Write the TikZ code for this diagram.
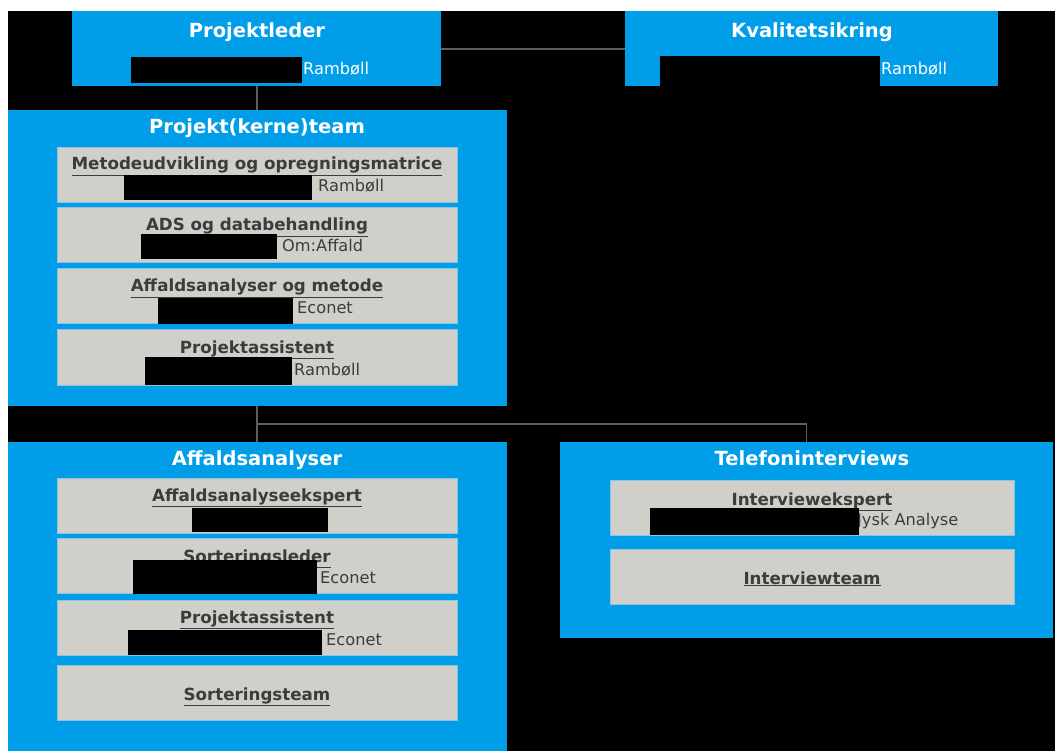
\documentclass[tikz,border=0pt]{standalone}
\usepackage{fontspec}
\setmainfont{DejaVu Sans}
\usetikzlibrary{positioning}

\definecolor{orgblue}{RGB}{0,157,232}
\definecolor{rolegray}{RGB}{208,207,202}
\definecolor{roleedge}{RGB}{140,195,225}
\definecolor{roletext}{RGB}{60,60,60}
\definecolor{linegray}{RGB}{95,95,90}

\tikzstyle{group} = [rectangle, fill=orgblue, inner sep=0pt, anchor=north west]
\tikzstyle{grouptitle} = [anchor=base, text=white, font=\fontsize{19.5}{22}\selectfont\bfseries, inner sep=0pt]
\tikzstyle{member} = [rectangle, fill=rolegray, draw=roleedge, line width=0.8pt, minimum width=400pt, minimum height=55pt, inner sep=0pt, anchor=north west]
\tikzstyle{roletitle} = [anchor=base, text=roletext, font=\fontsize{16.7}{19}\selectfont\bfseries, inner sep=0pt]
\tikzstyle{company} = [anchor=base west, text=roletext, font=\fontsize{16.2}{19}\selectfont, inner sep=0pt]
\tikzstyle{topcompany} = [company, text=white]
\tikzstyle{redact} = [fill=black]
\tikzstyle{connector} = [draw=linegray, line width=1.2pt]

\begin{document}
\begin{tikzpicture}[x=1pt, y=-1pt]

    \useasboundingbox (0,0) rectangle (1055,751);
    \fill[white] (0,0) rectangle (1055,751);
    \fill[black] (8,11) rectangle (1055,751);

    % Top boxes
    \node (leder) [group, minimum width=369pt, minimum height=75pt] at (72,11) {};
    \node (lederTitle) [grouptitle] at (257,37.5) {Projektleder};
    \fill[redact] (131,57) rectangle (302,83);
    \node (lederFirm) [topcompany] at (303,75) {Rambøll};

    \node (kvalitet) [group, minimum width=373pt, minimum height=75pt] at (625,11) {};
    \node (kvalitetTitle) [grouptitle] at (812,37.5) {Kvalitetsikring};
    \fill[redact] (660,56) rectangle (880,86.5);
    \node (kvalitetFirm) [topcompany] at (881,75) {Rambøll};

    % Projekt(kerne)team
    \node (kerne) [group, minimum width=499pt, minimum height=296pt] at (8,110) {};
    \node (kerneTitle) [grouptitle] at (257,134) {Projekt(kerne)team};

    \node (metode) [member] at (57,147) {};
    \node (metodeTitle) [roletitle] at (257,170) {\underline{Metodeudvikling og opregningsmatrice}};
    \node (metodeFirm) [company] at (318,191.5) {Rambøll};
    \fill[redact] (124,175) rectangle (312,200);

    \node (ads) [member] at (57,207) {};
    \node (adsTitle) [roletitle] at (257,231) {\underline{ADS og databehandling}};
    \node (adsFirm) [company] at (282,252) {Om:Affald};
    \fill[redact] (141,234) rectangle (277,259);

    \node (analyse) [member] at (57,268) {};
    \node (analyseTitle) [roletitle] at (257,292) {\underline{Affaldsanalyser og metode}};
    \node (analyseFirm) [company] at (297,314) {Econet};
    \fill[redact] (158,298) rectangle (293,324);

    \node (assistentA) [member] at (57,329.5) {};
    \node (assistentATitle) [roletitle] at (257,353) {\underline{Projektassistent}};
    \node (assistentAFirm) [company] at (294,375) {Rambøll};
    \fill[redact] (145,357) rectangle (292,385);

    % Affaldsanalyser
    \node (affald) [group, minimum width=499pt, minimum height=310pt] at (8,441.5) {};
    \node (affaldTitle) [grouptitle] at (257,465) {Affaldsanalyser};

    \node (ekspert) [member] at (57,478) {};
    \node (ekspertTitle) [roletitle] at (257,501.5) {\underline{Affaldsanalyseekspert}};
    \fill[redact] (192,508) rectangle (328,532);

    \node (sortleder) [member] at (57,538) {};
    \node (sortlederTitle) [roletitle] at (257,562) {\underline{Sorteringsleder}};
    \node (sortlederFirm) [company] at (320,583) {Econet};
    \fill[redact] (133,560) rectangle (317,593.5);

    \node (assistentB) [member] at (57,599.5) {};
    \node (assistentBTitle) [roletitle] at (257,623) {\underline{Projektassistent}};
    \node (assistentBFirm) [company] at (326,645) {Econet};
    \fill[redact] (128,630) rectangle (322,655);

    \node (sortteam) [member] at (57,664.5) {};
    \node (sortteamTitle) [roletitle] at (257,700) {\underline{Sorteringsteam}};

    % Telefoninterviews
    \node (telefon) [group, minimum width=493pt, minimum height=196pt] at (560,441.5) {};
    \node (telefonTitle) [grouptitle] at (812,465) {Telefoninterviews};

    \node (interviewer) [member, minimum width=404pt] at (610,480) {};
    \node (interviewerTitle) [roletitle] at (812,505) {\underline{Interviewekspert}};
    \node (interviewerFirm) [company] at (857,525.5) {Jysk Analyse};
    \fill[redact] (650,508) rectangle (859,535);

    \node (interviewteam) [member, minimum width=404pt] at (610,549) {};
    \node (interviewteamTitle) [roletitle] at (812,584) {\underline{Interviewteam}};

    % Connectors
    \coordinate (fork) at (257,424);
    \draw [connector] (leder.east |- 0,49) -- (kvalitet.west |- 0,49);
    \draw [connector] (leder.south -| fork) -- (kerne.north -| fork);
    \draw [connector] (kerne.south -| fork) -- (affald.north -| fork);
    \draw [connector] (fork) -- (fork -| telefon.north) -- (telefon.north);
\end{tikzpicture}
\end{document}
